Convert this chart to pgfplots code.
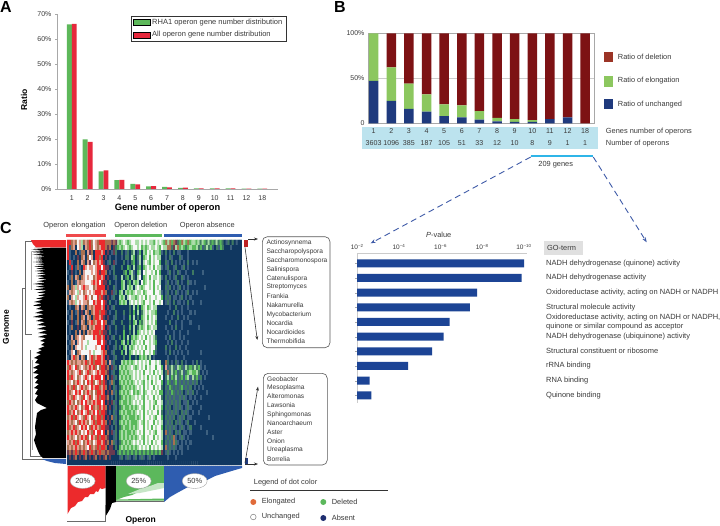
\documentclass[border=0pt]{standalone}
\usepackage{fontspec}
\setmainfont{Liberation Sans}
\usepackage{pgfplots}
\pgfplotsset{compat=1.18}
\usetikzlibrary{arrows.meta,shapes.geometric}
\newcommand\fsz[1]{\fontsize{#1}{#1}\selectfont}
\definecolor{txt}{HTML}{3A3A3A}
\definecolor{agreen}{HTML}{5DB85A}
\definecolor{ared}{HTML}{E6283C}
\definecolor{bnavy}{HTML}{1F3A7D}
\definecolor{bgreen}{HTML}{8CC75F}
\definecolor{bred}{HTML}{7D1214}
\definecolor{bbrown}{HTML}{9B3426}
\definecolor{cyanbox}{HTML}{BCE3EE}
\definecolor{cyanline}{HTML}{2FB5E8}
\definecolor{dashc}{HTML}{3F5BA8}
\definecolor{gobar}{HTML}{1C4495}
\definecolor{cred}{HTML}{EC2A2C}
\definecolor{cgreen}{HTML}{5CB85C}
\definecolor{cblue}{HTML}{2F5DB0}
\definecolor{axgray}{HTML}{A8A8A8}
\definecolor{dend}{HTML}{6A6A6A}
\definecolor{dotel}{HTML}{E06B3A}
\definecolor{dotab}{HTML}{1F2F70}
% heat map: one digit per cell, rows
\newcount\hmr \newcount\hmc
\def\hmdata{}
\def\hmadd#1{\xdef\hmdata{\hmdata(\the\hmc,\the\hmr)[#1]}}
\def\hmcell#1{\ifx#1\relax\let\hmnext\relax\else\ifnum\hmc<87 \hmadd{#1}\fi\advance\hmc 1 \let\hmnext\hmcell\fi\hmnext}
\def\hmpad{\ifnum\hmc<87 \hmadd{0}\advance\hmc 1 \expandafter\hmpad\fi}
\def\hmrow#1{\hmc=0 \hmcell#1\relax\hmpad\advance\hmr 1 }
\hmrow{7796956496979569777 999898 434543455445454544354543 94939823943934 434243242324232012020100}
\hmrow{7196056406979569677 989082 343454345545343454454354 49928493432343 342312423102132000100000}
\hmrow{7100901990689077767 080182 002012024013043545344310 20102011000100 000000000000000000000000}
\hmrow{7101080960956077970 801001 001022043024034535454400 10210002100100 000000000000000000000000}
\hmrow{0710090690685967678 012081 000201023014045435455300 21020101010201 010000000000000000000000}
\hmrow{0170191076566567757 880120 002003204023034545354410 12001200120100 000000000000000000000000}
\hmrow{1080109065556567877 901020 000230341034054554535300 01201021001002 000010000000000000000000}
\hmrow{0190690965655967767 080012 004023042045034535445410 20101200210100 000000000000000000000000}
\hmrow{1090169665556767578 802001 003402304340534545355400 12010120100210 100000000000000000000000}
\hmrow{9096465676655967777 080021 003404340454345545354500 21201012010100 000001000000000000000000}
\hmrow{1696546596565677767 900812 034043434544534555355410 12010210101201 010000000000000000000000}
\hmrow{9065465567659557978 080120 043404544345453545545530 21201101201010 000000000000000000000000}
\hmrow{1696456566955767757 802001 034340454545435545355450 12102011010201 000100000000000000000000}
\hmrow{0100960690969677767 080120 000000204030345345440000 00100200100100 000000000000000000000000}
\hmrow{1090190806909677977 801002 000200203040245454430000 01002010100010 100000000000000000000000}
\hmrow{0190090960690977678 080012 000100304020345354540000 10010020010100 000000000000000000000000}
\hmrow{1080190690967967757 900120 002000203403245454530000 00200100100010 000000000000000000000000}
\hmrow{0190080969069677767 081002 000200304024345345440000 10010200100000 001000000000000000000000}
\hmrow{0100906090696777978 802001 000300204034545454500000 01001001000100 000000000000000000000000}
\hmrow{1060965695555767767 080120 020304034345453545420000 10201001010000 000000000000000000000000}
\hmrow{0196065655455557757 801002 003403043454535545430000 01020100100100 000000000000000000000000}
\hmrow{1090655654555565577 080012 020340434545453545520000 20100201001000 000000000000000000000000}
\hmrow{0165096555565455567 900120 003040345454535545310000 10201010100100 000100000000000000000000}
\hmrow{1067960690567967767 080012 000200300203434240100000 01000100010000 000000000000000000000000}
\hmrow{7696966967967977767 906120 004343434545454535545400 92010210201001 020100000000000000000000}
\hmrow{9765796569676795977 890812 043434454345453545535530 61242143214232 423101000000000000000000}
\hmrow{7696567956796567677 980120 034343445454535545354540 29142312412343 342010100000000000000000}
\hmrow{7976596567657677757 090812 043434345454545354545350 24132412313414 231201000000000000000000}
\hmrow{9659676595767956797 801920 034343434545435453545530 13212312121212 120100000000000000000000}
\hmrow{7697956769657677967 908021 023434343454535455354520 21321212312120 101010000000000000000000}
\hmrow{7965767596769597767 080912 034343453434534554545330 12132121201212 010000100000000000000000}
\hmrow{7697656975679567977 890102 023434344545435455354520 21212112121010 100100000000000000000000}
\hmrow{9769596757696767757 080821 034334345454535545435540 12121212011201 010000000000000000000000}
\hmrow{7696765967757969767 908012 023433434345435545354530 21201212101210 000100000000000000000000}
\hmrow{7967596756796757977 801021 034343343454535454553520 12121210212101 001000000000000000000000}
\hmrow{9679765697657967797 080912 023434333434535545435530 21212012120110 000000010000000000000000}
\hmrow{7696597676956797767 908021 034343433345435455354540 12120212101200 100000000000000000000000}
\hmrow{7967965767597676977 880102 023433434345535453545530 21212101210120 000100000000000000000000}
\hmrow{9676769565769757757 090812 034343343454535545435540 91210212011010 000000100000000000000000}
\hmrow{7696596767957697977 980012 034343434345435455354540 12129101210100 000000000100000000000000}
\hmrow{6967976596769567767 890921 023434345454535453545530 21219210101010 000000000000000000000000}
\hmrow{9696769696579697977 908802 034343434345454535454540 91212101100100 000000000000000000000000}
\hmrow{8989798979897989799 898880 232323232323232323232380 12101010100000 000000000000000000000000}
\hmrow{0808908089080890808 908000 012012101201210120100000 01000100000000 000000000000000000000000}
\hmrow{0}
\newcommand\gn[3]{\node[anchor=west,inner sep=0pt,text=txt,font=\fsz{7.4}] at (axis cs:#1,#2) {#3};}
\newcommand\gs[3]{\node[anchor=west,inner sep=0pt,text=txt,font=\fsz{6.6}] at (axis cs:#1,#2) {#3};}
\newcommand\pw[1]{10\raisebox{2.2pt}{\fsz{4.4}−#1}}
\begin{document}
\begin{tikzpicture}[x=1pt,y=1pt]
\path[use as bounding box,fill=white] (0,0) rectangle (720pt,525pt);
% ---------- page-wide axis in pixel units, for the annotation layer
\begin{axis}[at={(0pt,0pt)},anchor=south west,scale only axis,width=720pt,height=525pt,
  xmin=0,xmax=720,ymin=0,ymax=525,y dir=reverse,hide axis,clip=false]
\node[font=\bfseries\fsz{16}] at (axis cs:6,7) {A};
\node[font=\bfseries\fsz{16}] at (axis cs:340,7) {B};
\node[font=\bfseries\fsz{16}] at (axis cs:6,228) {C};
% B table strip
\fill[cyanbox] (axis cs:362,126.7) rectangle (axis cs:598,149.3);
\gn{605.7}{131.7}{Genes number of operons}
\gn{605.7}{144}{Number of operons}
\draw[cyanline,line width=2pt] (axis cs:530.7,156.3) -- (axis cs:593.3,156.3);
\node[text=txt,font=\fsz{7.4}] at (axis cs:555.7,165) {209 genes};
\draw[dashc,line width=.9pt,dash pattern=on 6pt off 4pt,-{Stealth[length=5pt]}] (axis cs:530.7,157) -- (axis cs:370.7,243.3);
\draw[dashc,line width=.9pt,dash pattern=on 6pt off 4pt,-{Stealth[length=5pt]}] (axis cs:593.3,157) -- (axis cs:646.7,242.3);
% B legend
\fill[bbrown] (axis cs:604,52) rectangle (axis cs:613,62);
\fill[bgreen] (axis cs:604,76) rectangle (axis cs:613,87);
\fill[bnavy] (axis cs:604,99) rectangle (axis cs:613,109);
\gn{617.7}{57}{Ratio of deletion}
\gn{617.7}{81}{Ratio of elongation}
\gn{617.7}{104.7}{Ratio of unchanged}
% GO header
\fill[black!12] (axis cs:544,241) rectangle (axis cs:583.3,255.3);
\gn{547}{248.3}{GO-term}
\node[text=txt,font=\fsz{7.4}] at (axis cs:438.7,235.3) {\textit{P}-value};
% C headers
\node[text=txt,font=\fsz{7.4}] at (axis cs:74.5,225.7) {Operon\, elongation};
\node[text=txt,font=\fsz{7.4}] at (axis cs:140.8,225.7) {Operon deletion};
\node[text=txt,font=\fsz{7.4}] at (axis cs:207.3,225.7) {Operon absence};
\fill[cred!85!white] (axis cs:65.7,234) rectangle (axis cs:105.7,236.6);
\fill[cgreen] (axis cs:114.7,234) rectangle (axis cs:162,236.6);
\fill[cblue] (axis cs:164,234) rectangle (axis cs:242.3,236.6);
\node[rotate=90,font=\bfseries\fsz{8.5}] at (axis cs:6,327) {Genome};
\node[font=\bfseries\fsz{8.5}] at (axis cs:140.7,520) {Operon};
% dendrogram lines
\draw[dend,line width=.7pt] (axis cs:32,241.7) -- (axis cs:25,241.7) -- (axis cs:25,334) -- (axis cs:32,334);
\draw[dend,line width=.7pt] (axis cs:25,288) -- (axis cs:22,288) -- (axis cs:22,459.3) -- (axis cs:44,459.3);
\draw[dend,line width=.7pt] (axis cs:30,350) -- (axis cs:30,456) -- (axis cs:42,456);
\draw[dend!60!white,line width=1pt] (axis cs:31,252) -- (axis cs:31,290);
\draw[dend!60!white,line width=1pt] (axis cs:32,360) -- (axis cs:32,450);
% black clustered block
\addplot[fill=black,draw=none] coordinates {(66,247.5)(34,248)(46,248.8)(31,249.6)(46,250.4)(31,251.2)(44,252)(33,252.8)(46,253.6)(32,254.4)(45,255.2)(36,256)(46,256.8)(34,258)(44,259)(36,260)(45,261)(33,262)(46,263)(36,264.2)(46,265.2)(34,266.4)(45,267.4)(36,268.6)(46,269.6)(35,271)(46,272)(37,273.4)(47,274.4)(36,276)(45,277)(38,278.6)(47,279.6)(37,281.2)(46,282.2)(33,284)(45,285)(36,286.8)(46,287.8)(34,289.6)(47,290.6)(37,292.6)(46,293.6)(38,295.6)(45,296.6)(36,298.6)(43,299.6)(34,302)(42,303)(33,305.6)(42,306.6)(36,309)(44,310)(35,313)(44,314)(33,317)(44,318)(36,321)(45,322)(37,325)(47,326)(37,329)(47,330)(38,333)(48,334)(38,337)(46,338)(40,341)(45,342)(41,345)(45,346)(38,349)(42,350)(36,353)(41,354)(34,358)(38,359)(35,363)(40,364)(33,368)(38,369)(33,373)(39,374)(34,378)(38,379)(35,383)(39,384)(34,388)(38,389)(35,394)(38,395)(35,400)(37,403)(47,408)(41,410)(37,413)(36,420)(35,427)(36,434)(34,440)(36,446)(38,451)(40,455)(43,458)(66,458)} --cycle;
\addplot[fill=cred,draw=none] coordinates {(31,240)(66,240)(66,247.3)(36,247.3)(33,244)} --cycle;
\addplot[fill=cblue,draw=none] coordinates {(42,459)(66,459)(66,464)(55,463)(47,461)} --cycle;
% marginal profiles under the map
\addplot[fill=cred,draw=none] coordinates {(67.5,466)(105.7,466)(105.7,488)(102,489)(100,488)(98,492)(96,491)(94,494)(90,494)(88,497)(85,497)(82,501)(78,502)(75,506)(71,508)(67.5,514)} --cycle;
\addplot[fill=black,draw=none] coordinates {(105.7,466)(116,466)(116,502)(112,503)(110,509)(107,514)(105.7,516)} --cycle;
\addplot[fill=cgreen,draw=none] coordinates {(116,466)(164,466)(164,484)(158,484)(150,487)(140,491)(132,495)(124,497)(116,500)} --cycle;
\addplot[fill=cgreen!35!white,draw=none] coordinates {(128,494)(140,489)(150,486)(158,483)(164,483)(164,488)(140,493)} --cycle;
\addplot[fill=cgreen,draw=none] coordinates {(116,499.5)(164,498.5)(164,500.5)(116,500.5)} --cycle;
\addplot[fill=cblue,draw=none] coordinates {(164,466)(242,466)(242,468)(235,470)(225,473)(215,476)(207,480)(197,484)(188,487)(177,493)(170,497)(164,502)} --cycle;
\draw[dend,line width=.7pt] (axis cs:67,521) -- (axis cs:105.7,521) -- (axis cs:105.7,505);
\draw[dend,line width=.7pt] (axis cs:116,501.8) -- (axis cs:164,501.8);
\node[draw=black!35,fill=white,ellipse,inner sep=0pt,minimum width=25pt,minimum height=15pt,text=txt,font=\fsz{7.4}] at (axis cs:82.7,481) {20\%};
\node[draw=black!35,fill=white,ellipse,inner sep=0pt,minimum width=25pt,minimum height=15pt,text=txt,font=\fsz{7.4}] at (axis cs:138.7,481) {25\%};
\node[draw=black!35,fill=white,ellipse,inner sep=0pt,minimum width=25pt,minimum height=15pt,text=txt,font=\fsz{7.4}] at (axis cs:194.7,481) {50\%};
% side strips, arrows, boxes
\fill[cred!80!black] (axis cs:244.3,240) rectangle (axis cs:248.3,246.5);
\fill[bnavy] (axis cs:245,458) rectangle (axis cs:247.5,464);
\draw[black!80,line width=.6pt,-{Stealth[length=4pt]}] (axis cs:248,239) -- (axis cs:258,239);
\draw[black!80,line width=.6pt,-{Stealth[length=4pt]}] (axis cs:245,247.3) -- (axis cs:257.3,340);
\draw[black!80,line width=.6pt,-{Stealth[length=4pt]}] (axis cs:245,463) -- (axis cs:258,386.7);
\draw[black!80,line width=.6pt,-{Stealth[length=4pt]}] (axis cs:245,464) -- (axis cs:258,464);
\draw[black!65,line width=.6pt,rounded corners=5pt] (axis cs:262.3,236.7) rectangle (axis cs:330,347.7);
\draw[black!65,line width=.6pt,rounded corners=5pt] (axis cs:263.3,373.3) rectangle (axis cs:327.3,465);
\gs{266.3}{242.3}{Actinosynnema}
\gs{266.3}{251.3}{Saccharopolyspora}
\gs{266.3}{260.3}{Saccharomonospora}
\gs{266.3}{269.3}{Salinispora}
\gs{266.3}{278.3}{Catenulispora}
\gs{266.3}{287.3}{Streptomyces}
\gs{266.3}{296.3}{Frankia}
\gs{266.3}{305.3}{Nakamurella}
\gs{266.3}{314.3}{Mycobacterium}
\gs{266.3}{323.3}{Nocardia}
\gs{266.3}{332.3}{Nocardioides}
\gs{266.3}{341.3}{Thermobifida}
\gs{267}{378.7}{Geobacter}
\gs{267}{387.6}{Mesoplasma}
\gs{267}{396.6}{Alteromonas}
\gs{267}{405.5}{Lawsonia}
\gs{267}{414.4}{Sphingomonas}
\gs{267}{423.3}{Nanoarchaeum}
\gs{267}{432.3}{Aster}
\gs{267}{441.2}{Onion}
\gs{267}{450.1}{Ureaplasma}
\gs{267}{459}{Borrelia}
% dot legend
\gn{253.7}{483}{Legend of dot color}
\draw[black!80,line width=.6pt] (axis cs:250,490.3) -- (axis cs:388,490.3);
\fill[dotel] (axis cs:253.3,502) circle[radius=3pt];
\fill[cgreen] (axis cs:323.3,502) circle[radius=3pt];
\draw[black!50,fill=white,line width=.5pt] (axis cs:253.3,517) circle[radius=2.8pt];
\fill[dotab] (axis cs:323.3,518) circle[radius=3pt];
\gn{261.7}{502}{Elongated}
\gn{331.7}{502}{Deleted}
\gn{261.7}{517}{Unchanged}
\gn{331.7}{518}{Absent}
\end{axis}
% ---------- panel A
\begin{axis}[at={(57pt,336pt)},anchor=south west,scale only axis,width=221pt,height=175pt,
  ybar=0pt,bar width=4.9pt,xmin=-0.93,xmax=12.99,ymin=0,ymax=70,
  axis lines=left,axis line style={-,axgray},
  xtick={0,...,12},xticklabels={1,2,3,4,5,6,7,8,9,10,11,12,18},xtick style={draw=none},
  ytick={0,10,...,70},yticklabel={\pgfmathprintnumber{\tick}\%},
  ytick style={axgray},tick align=outside,major tick length=2pt,
  /pgf/number format/assume math mode=true,
  ticklabel style={font=\fsz{7},text=txt},
  xticklabel style={yshift=-1pt},
  xlabel={Gene number of operon},ylabel={Ratio},
  xlabel style={font=\bfseries\fsz{9.3},at={(axis description cs:0.5,0)},anchor=center,yshift=-19.5pt},
  ylabel style={font=\bfseries\fsz{8.5},at={(axis description cs:0,0.51)},anchor=center,yshift=33pt},
  legend style={at={(axis description cs:0.335,0.989)},anchor=north west,draw=black!80,font=\fsz{7.5},text=txt,
    inner xsep=1.5pt,inner ysep=0.5pt,row sep=2pt,legend cell align=left},
  legend image code/.code={\fill[#1] (0pt,-3pt) rectangle (14.5pt,3.5pt);},
  ]
\addplot[fill=agreen,draw=none,area legend] coordinates {(0,65.8)(1,19.8)(2,7)(3,3.5)(4,2)(5,1)(6,0.8)(7,0.4)(8,0.2)(9,0.2)(10,0.2)(11,0.1)(12,0.1)};
\addplot[fill=ared,draw=none,area legend] coordinates {(0,66)(1,18.8)(2,7.4)(3,3.6)(4,1.8)(5,1.1)(6,0.6)(7,0.5)(8,0.2)(9,0.2)(10,0.2)(11,0.1)(12,0.1)};
\addlegendentry{RHA1 operon gene number distribution}
\addlegendentry{All operon gene number distribution}
\end{axis}
% ---------- panel B
\begin{axis}[at={(368pt,401.7pt)},anchor=south west,scale only axis,width=226pt,height=90pt,
  ybar stacked,bar width=9.5pt,xmin=-0.32,xmax=12.5,ymin=0,ymax=100,
  axis line style={axgray},ymajorgrids,grid style={black!20},
  ytick={0,50,100},yticklabels={0,50\%,100\%},ytick style={draw=none},
  xtick={0,...,12},xtick style={draw=none},
  xticklabels={{1\\3603},{2\\1096},{3\\385},{4\\187},{5\\105},{6\\51},{7\\33},{8\\12},{9\\10},{10\\8},{11\\9},{12\\1},{18\\1}},
  ticklabel style={font=\fsz{7},text=txt},
  xticklabel style={align=center,font=\fontsize{7.1}{12.3}\selectfont,yshift=-1.5pt},
  /pgf/number format/assume math mode=true,
  ]
\addplot[fill=bnavy,draw=none] coordinates {(0,47)(1,25)(2,16)(3,13)(4,8)(5,6.5)(6,4)(7,2)(8,1.5)(9,1.5)(10,4.5)(11,6.5)(12,0)};
\addplot[fill=bgreen,draw=none] coordinates {(0,53)(1,37)(2,28)(3,19)(4,13)(5,13.5)(6,9.5)(7,4)(8,3)(9,2)(10,0)(11,0)(12,0)};
\addplot[fill=bred,draw=none] coordinates {(0,0)(1,38)(2,56)(3,68)(4,79)(5,80)(6,86.5)(7,94)(8,95.5)(9,96.5)(10,95.5)(11,93.5)(12,100)};
\end{axis}
% ---------- GO-term bars
\begin{axis}[at={(357pt,122pt)},anchor=south west,scale only axis,width=170pt,height=150pt,
  xbar,bar width=8pt,xmin=2,xmax=10.16,ymin=-0.523,ymax=9.70,
  axis x line=top,axis y line=left,axis line style={-,axgray!60},
  xtick={2,4,6,8,10},xticklabels={\pw{2},\pw{4},\pw{6},\pw{8},\pw{10}},
  xtick style={draw=none},
  ytick={0,...,9},ytick style={axgray},tick align=outside,major tick length=2pt,
  yticklabels={Quinone binding,RNA binding,rRNA binding,Structural constituent or ribosome,NADH dehydrogenase (ubiquinone) activity,{Oxidoreductase activity, acting on NADH or NADPH,\\quinone or similar compound as acceptor},Structural molecule activity,{Oxidoreductase activity, acting on NADH or NADPH},NADH dehydrogenase activity,NADH dehydrogenase (quinone) activity},
  xticklabel style={font=\fsz{6.5},text=txt,yshift=-2pt},
  yticklabel style={font=\fontsize{7.5}{9}\selectfont,text=txt,anchor=west,align=left,xshift=191pt,inner sep=0pt},
  ]
\addplot[fill=gobar,draw=none] coordinates {(2.69,0)(2.6,1)(4.45,2)(5.6,3)(6.16,4)(6.45,5)(7.42,6)(7.76,7)(9.9,8)(10.02,9)};
\end{axis}
% ---------- heat map
\begin{axis}[at={(67pt,60pt)},anchor=south west,scale only axis,width=175pt,height=225pt,
  xmin=-0.5,xmax=86.5,ymin=-0.5,ymax=44.5,y dir=reverse,hide axis,enlargelimits=false,
  point meta min=0,point meta max=9,
  colormap={hm}{rgb255=(16,55,96) rgb255=(61,96,128) rgb255=(63,122,98) rgb255=(89,185,91) rgb255=(167,219,165) rgb255=(247,247,247) rgb255=(224,160,144) rgb255=(236,42,44) rgb255=(106,58,80) rgb255=(168,112,80)},
  ]
\edef\hmplot{\noexpand\addplot[matrix plot*,mesh/cols=87,mesh/ordering=x varies,point meta=explicit,shader=flat corner] coordinates {\hmdata};}
\hmplot
\end{axis}
\end{tikzpicture}
\end{document}
